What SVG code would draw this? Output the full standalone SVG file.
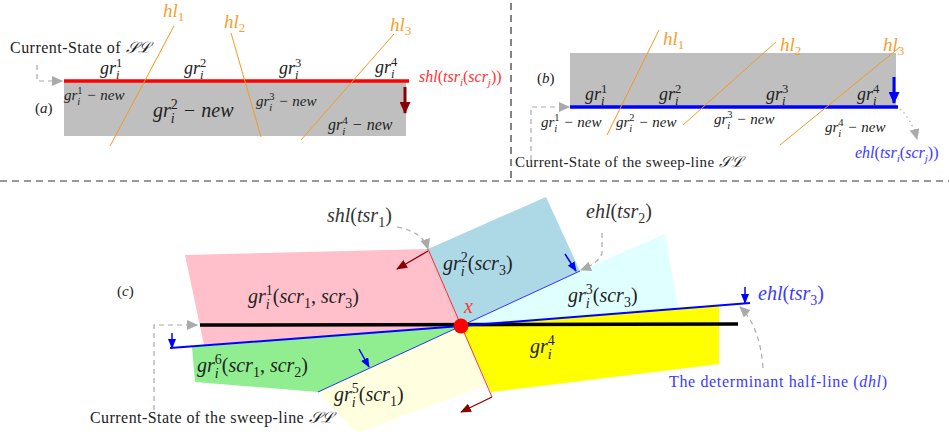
<svg xmlns="http://www.w3.org/2000/svg" width="949" height="438" viewBox="0 0 949 438">
<style>
.t{font-family:"Liberation Serif","DejaVu Serif",serif}
.i{font-style:italic}
.n{font-style:normal}
.k{fill:#222}
.g{fill:#333}
.o{fill:#f5a030}
.rd{fill:#ff3333}
.bl{fill:#3a3aff}
.ol{stroke:#f39a21;stroke-width:1;fill:none}
.dash{stroke:#aaa;stroke-width:1.2;stroke-dasharray:5 4;fill:none}
.div{stroke:#333;stroke-width:1.2;stroke-dasharray:7 5;fill:none}
</style>
<defs>
<marker id="ga" markerUnits="userSpaceOnUse" markerWidth="11" markerHeight="10" refX="10" refY="5" orient="auto"><path d="M0,0 L11,5 L0,10 z" fill="#aaa"/></marker>
<marker id="ba" markerUnits="userSpaceOnUse" markerWidth="10" markerHeight="8" refX="9" refY="4" orient="auto"><path d="M0,0 L10,4 L0,8 z" fill="#0000ff"/></marker>
<marker id="ra" markerUnits="userSpaceOnUse" markerWidth="11" markerHeight="9" refX="10" refY="4.5" orient="auto"><path d="M0,0 L11,4.5 L0,9 z" fill="#8b0000"/></marker>
<marker id="bra" markerUnits="userSpaceOnUse" markerWidth="12" markerHeight="11" refX="11" refY="5.5" orient="auto"><path d="M0,0 L12,5.5 L0,11 z" fill="#8b0000"/></marker>
<marker id="bba" markerUnits="userSpaceOnUse" markerWidth="12" markerHeight="11" refX="11" refY="5.5" orient="auto"><path d="M0,0 L12,5.5 L0,11 z" fill="#0000ff"/></marker>
</defs>

<g id="dividers">
<line class="div" x1="511" y1="3" x2="511" y2="180"/>
<line class="div" x1="0" y1="181" x2="949" y2="181"/>
</g>

<g id="panel-a">
<rect x="64" y="82" width="342" height="54" fill="#bfbfbf"/>
<line x1="64" y1="81" x2="409" y2="81" stroke="#ff0000" stroke-width="3.5"/>
<line class="ol" x1="174" y1="26" x2="110" y2="146"/>
<line class="ol" x1="231" y1="33" x2="261" y2="137"/>
<line class="ol" x1="394" y1="34" x2="301" y2="140"/>
<text class="t i o" x="163" y="17" font-size="19">hl<tspan class="n" font-size="13" dy="4">1</tspan></text>
<text class="t i o" x="224" y="28" font-size="19">hl<tspan class="n" font-size="13" dy="4">2</tspan></text>
<text class="t i o" x="390" y="31" font-size="19">hl<tspan class="n" font-size="13" dy="4">3</tspan></text>
<text class="t k" x="10" y="53" font-size="16" textLength="140" lengthAdjust="spacing">Current-State of <tspan class="i">𝒮ℒ</tspan></text>
<text class="t k" x="35" y="113" font-size="15">(<tspan class="i">a</tspan>)</text>
<text class="t i k" x="100" y="74" font-size="18">gr<tspan font-size="12.6" dy="5.4">i</tspan><tspan class="n" font-size="12.6" dx="-3.5" dy="-12.6">1</tspan></text>
<text class="t i k" x="184" y="74" font-size="18">gr<tspan font-size="12.6" dy="5.4">i</tspan><tspan class="n" font-size="12.6" dx="-3.5" dy="-12.6">2</tspan></text>
<text class="t i k" x="279" y="74" font-size="18">gr<tspan font-size="12.6" dy="5.4">i</tspan><tspan class="n" font-size="12.6" dx="-3.5" dy="-12.6">3</tspan></text>
<text class="t i k" x="375" y="73" font-size="18">gr<tspan font-size="12.6" dy="5.4">i</tspan><tspan class="n" font-size="12.6" dx="-3.5" dy="-12.6">4</tspan></text>
<text class="t i k" x="64" y="100" font-size="15">gr<tspan font-size="10.5" dy="4.5">i</tspan><tspan class="n" font-size="10.5" dx="-2.9" dy="-10.5">1</tspan><tspan dy="6"> − new</tspan></text>
<text class="t i k" x="153" y="117" font-size="20">gr<tspan font-size="14" dy="6">i</tspan><tspan class="n" font-size="14" dx="-3.9" dy="-14">2</tspan><tspan dy="8"> − new</tspan></text>
<text class="t i k" x="256" y="106" font-size="15">gr<tspan font-size="10.5" dy="4.5">i</tspan><tspan class="n" font-size="10.5" dx="-2.9" dy="-10.5">3</tspan><tspan dy="6"> − new</tspan></text>
<text class="t i k" x="328" y="130" font-size="16">gr<tspan font-size="11.2" dy="4.8">i</tspan><tspan class="n" font-size="11.2" dx="-3.1" dy="-11.2">4</tspan><tspan dy="6.4"> − new</tspan></text>
<text class="t i rd" x="419" y="82" font-size="16">shl<tspan class="n">(</tspan>tsr<tspan font-size="11" dy="4">i</tspan><tspan class="n" dy="-4">(</tspan>scr<tspan font-size="11" dy="4">j</tspan><tspan class="n" dy="-4">))</tspan></text>
</g>

<g id="panel-b">
<rect x="570" y="53" width="326" height="54" fill="#bfbfbf"/>
<line x1="570" y1="107" x2="898" y2="107" stroke="#0000ff" stroke-width="3.5"/>
<line class="ol" x1="659" y1="30" x2="607" y2="135"/>
<line class="ol" x1="776" y1="42" x2="683" y2="125"/>
<line class="ol" x1="900" y1="47" x2="780" y2="145"/>
<text class="t i o" x="663" y="45" font-size="19">hl<tspan class="n" font-size="13" dy="4">1</tspan></text>
<text class="t i o" x="780" y="51" font-size="19">hl<tspan class="n" font-size="13" dy="4">2</tspan></text>
<text class="t i o" x="883" y="51" font-size="19">hl<tspan class="n" font-size="13" dy="4">3</tspan></text>
<text class="t k" x="537" y="83" font-size="15">(<tspan class="i">b</tspan>)</text>
<text class="t i k" x="585" y="100" font-size="18">gr<tspan font-size="12.6" dy="5.4">i</tspan><tspan class="n" font-size="12.6" dx="-3.5" dy="-12.6">1</tspan></text>
<text class="t i k" x="659" y="100" font-size="18">gr<tspan font-size="12.6" dy="5.4">i</tspan><tspan class="n" font-size="12.6" dx="-3.5" dy="-12.6">2</tspan></text>
<text class="t i k" x="766" y="100" font-size="18">gr<tspan font-size="12.6" dy="5.4">i</tspan><tspan class="n" font-size="12.6" dx="-3.5" dy="-12.6">3</tspan></text>
<text class="t i k" x="857" y="100" font-size="18">gr<tspan font-size="12.6" dy="5.4">i</tspan><tspan class="n" font-size="12.6" dx="-3.5" dy="-12.6">4</tspan></text>
<text class="t i k" x="541" y="127" font-size="15">gr<tspan font-size="10.5" dy="4.5">i</tspan><tspan class="n" font-size="10.5" dx="-2.9" dy="-10.5">1</tspan><tspan dy="6"> − new</tspan></text>
<text class="t i k" x="616" y="127" font-size="15">gr<tspan font-size="10.5" dy="4.5">i</tspan><tspan class="n" font-size="10.5" dx="-2.9" dy="-10.5">2</tspan><tspan dy="6"> − new</tspan></text>
<text class="t i k" x="714" y="124" font-size="15">gr<tspan font-size="10.5" dy="4.5">i</tspan><tspan class="n" font-size="10.5" dx="-2.9" dy="-10.5">3</tspan><tspan dy="6"> − new</tspan></text>
<text class="t i k" x="825" y="132" font-size="15">gr<tspan font-size="10.5" dy="4.5">i</tspan><tspan class="n" font-size="10.5" dx="-2.9" dy="-10.5">4</tspan><tspan dy="6"> − new</tspan></text>
<text class="t i bl" x="855" y="158" font-size="16">ehl<tspan class="n">(</tspan>tsr<tspan font-size="11" dy="4">i</tspan><tspan class="n" dy="-4">(</tspan>scr<tspan font-size="11" dy="4">j</tspan><tspan class="n" dy="-4">))</tspan></text>
<text class="t k" x="515" y="167" font-size="15" textLength="227" lengthAdjust="spacing">Current-State of the sweep-line <tspan class="i">𝒮ℒ</tspan></text>
</g>

<g id="panel-c">
<g id="gr1"><polygon points="185,255 428,249 461,326 204,345" fill="#ffc0cb"/></g>
<g id="gr2"><polygon points="428,249 546,197 580,271 461,326" fill="#add8e6"/></g>
<g id="gr3"><polygon points="461,326 580,271 665,234 678,308" fill="#e0ffff"/></g>
<g id="gr4"><polygon points="461,326 719,305 719,364 491,392" fill="#ffff00"/></g>
<g id="gr5"><polygon points="461,326 487,385 357,433 318,392" fill="#ffffe0"/></g>
<g id="gr6"><polygon points="461,326 192,347 195,382 318,392" fill="#90ee90"/></g>
<line x1="461" y1="326" x2="580" y2="271" stroke="#0000ff" stroke-width="0.8"/>
<line x1="461" y1="326" x2="318" y2="392" stroke="#0000ff" stroke-width="0.8"/>
<line x1="428" y1="249" x2="492" y2="397" stroke="#ff0000" stroke-width="0.8"/>
<line x1="200" y1="325" x2="738" y2="324" stroke="#000" stroke-width="3.5"/>
<polyline points="170,348 461,326 750,303" fill="none" stroke="#0000ff" stroke-width="2"/>
<circle cx="461" cy="326" r="7.5" fill="#ff0000"/>
<text class="t i rd" x="464" y="313" font-size="20">x</text>
<text class="t k" x="117" y="296" font-size="15">(<tspan class="i">c</tspan>)</text>
<text class="t i k" x="248" y="303" font-size="20">gr<tspan font-size="14" dy="6">i</tspan><tspan class="n" font-size="14" dx="-3.9" dy="-14">1</tspan><tspan class="n" dy="8">(</tspan>scr<tspan class="n" font-size="14" dy="5">1</tspan><tspan class="n" dy="-5">, </tspan>scr<tspan class="n" font-size="14" dy="5">3</tspan><tspan class="n" dy="-5">)</tspan></text>
<text class="t i k" x="443" y="270" font-size="20">gr<tspan font-size="14" dy="6">i</tspan><tspan class="n" font-size="14" dx="-3.9" dy="-14">2</tspan><tspan class="n" dy="8">(</tspan>scr<tspan class="n" font-size="14" dy="5">3</tspan><tspan class="n" dy="-5">)</tspan></text>
<text class="t i k" x="568" y="302" font-size="20">gr<tspan font-size="14" dy="6">i</tspan><tspan class="n" font-size="14" dx="-3.9" dy="-14">3</tspan><tspan class="n" dy="8">(</tspan>scr<tspan class="n" font-size="14" dy="5">3</tspan><tspan class="n" dy="-5">)</tspan></text>
<text class="t i k" x="530" y="353" font-size="20">gr<tspan font-size="14" dy="6">i</tspan><tspan class="n" font-size="14" dx="-3.9" dy="-14">4</tspan></text>
<text class="t i k" x="334" y="401" font-size="20">gr<tspan font-size="14" dy="6">i</tspan><tspan class="n" font-size="14" dx="-3.9" dy="-14">5</tspan><tspan class="n" dy="8">(</tspan>scr<tspan class="n" font-size="14" dy="5">1</tspan><tspan class="n" dy="-5">)</tspan></text>
<text class="t i k" x="197" y="372" font-size="20">gr<tspan font-size="14" dy="6">i</tspan><tspan class="n" font-size="14" dx="-3.9" dy="-14">6</tspan><tspan class="n" dy="8">(</tspan>scr<tspan class="n" font-size="14" dy="5">1</tspan><tspan class="n" dy="-5">, </tspan>scr<tspan class="n" font-size="14" dy="5">2</tspan><tspan class="n" dy="-5">)</tspan></text>
<text class="t i g" x="327" y="222" font-size="20">shl<tspan class="n">(</tspan>tsr<tspan class="n" font-size="14" dy="5">1</tspan><tspan class="n" dy="-5">)</tspan></text>
<text class="t i g" x="586" y="218" font-size="20">ehl<tspan class="n">(</tspan>tsr<tspan class="n" font-size="14" dy="5">2</tspan><tspan class="n" dy="-5">)</tspan></text>
<text class="t i bl" x="758" y="300" font-size="20">ehl<tspan class="n">(</tspan>tsr<tspan class="n" font-size="14" dy="5">3</tspan><tspan class="n" dy="-5">)</tspan></text>
<text class="t bl" x="669" y="387" font-size="16" textLength="218" lengthAdjust="spacing">The determinant half-line (<tspan class="i">dhl</tspan>)</text>
<text class="t k" x="90" y="423" font-size="16" textLength="243" lengthAdjust="spacing">Current-State of the sweep-line <tspan class="i">𝒮ℒ</tspan></text>
</g>

<g id="connectors">
<line x1="405" y1="87" x2="405" y2="113" stroke="#8b0000" stroke-width="3" marker-end="url(#bra)"/>
<line x1="894" y1="77" x2="894" y2="103" stroke="#0000ff" stroke-width="3" marker-end="url(#bba)"/>
<path class="dash" d="M37,65 L37,81 L62,81" marker-end="url(#ga)"/>
<path class="dash" d="M531,160 L531,107 L569,107" marker-end="url(#ga)"/>
<path d="M900,109 Q912,120 917,139" fill="none" stroke="#bbb" stroke-width="1.5" stroke-dasharray="1.5 3.5" marker-end="url(#ga)"/>
<path class="dash" d="M154,410 L154,325 L197,325" marker-end="url(#ga)"/>
<path class="dash" d="M397,227 Q423,232 428,249" marker-end="url(#ga)"/>
<path class="dash" d="M602,233 L602,253 Q599,263 581,270" marker-end="url(#ga)"/>
<path class="dash" d="M763,368 Q760,326 740,307" marker-end="url(#ga)"/>
<line x1="172" y1="333" x2="172" y2="348" stroke="#0000ff" stroke-width="1.5" marker-end="url(#ba)"/>
<line x1="745" y1="287" x2="745" y2="303" stroke="#0000ff" stroke-width="1.5" marker-end="url(#ba)"/>
<line x1="359" y1="349" x2="369" y2="367" stroke="#0000ff" stroke-width="1.5" marker-end="url(#ba)"/>
<line x1="565" y1="254" x2="576" y2="271" stroke="#0000ff" stroke-width="1.5" marker-end="url(#ba)"/>
<line x1="428" y1="251" x2="397" y2="269" stroke="#8b0000" stroke-width="1.3" marker-end="url(#ra)"/>
<line x1="492" y1="397" x2="461" y2="412" stroke="#8b0000" stroke-width="1.3" marker-end="url(#ra)"/>
</g>
</svg>
